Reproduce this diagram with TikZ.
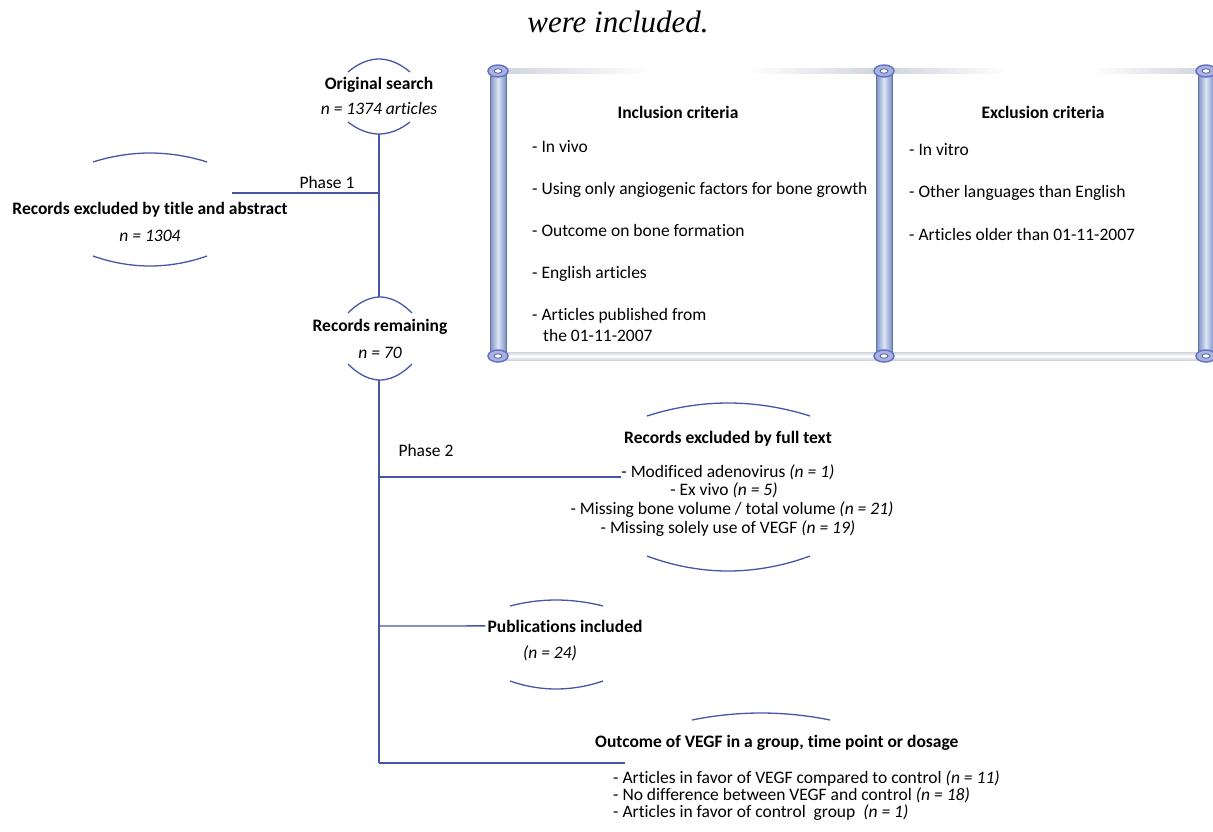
\documentclass[tikz,border=0pt]{standalone}
\usepackage{fontspec}
\setmainfont[Ligatures={NoCommon}]{Carlito}
\newfontfamily\serifit{Liberation Serif}
\usetikzlibrary{positioning}
\definecolor{flowblue}{RGB}{70,86,166}
\definecolor{rodgrey}{RGB}{208,211,219}
\definecolor{pillarlight}{RGB}{222,230,245}
\definecolor{pillardark}{RGB}{122,144,198}
\definecolor{knobblue}{RGB}{100,116,196}
\newcommand{\fs}{\fontsize{17.5}{19}\selectfont}
\tikzset{
  link/.style={draw=flowblue, line width=1.4pt},
  hoop/.style={draw=flowblue, line width=1.3pt},
  heading/.style={font=\fs\bfseries, inner sep=0pt, anchor=base},
  count/.style={font=\fs\itshape, inner sep=0pt, anchor=base},
  entry/.style={font=\fs, inner sep=0pt, anchor=base west},
  midentry/.style={font=\fs, inner sep=0pt, anchor=base},
}
\begin{document}
\begin{tikzpicture}[x=1pt,y=-1pt]
  \useasboundingbox (0,0) rectangle (1213,831);
  \node[font=\serifit\itshape\fontsize{31}{33}\selectfont, inner sep=0pt, anchor=base] (title) at (618,32) {were included.};

  % scroll frames
  \shade[left color=rodgrey, right color=white] (498,68.5) rectangle (650,73.5);
  \shade[left color=white, right color=rodgrey] (747,68.5) rectangle (884,73.5);
  \shade[left color=rodgrey, right color=white] (884,68.5) rectangle (1008,73.5);
  \shade[left color=white, right color=rodgrey] (1090,68.5) rectangle (1206,73.5);
  \shade[top color=rodgrey, bottom color=rodgrey, middle color=white] (498,352) rectangle (1213,360);
  \foreach \px in {498,884,1206} {
    \shade[left color=pillardark, right color=pillardark, middle color=pillarlight] (\px-8,71) rectangle (\px+8,356);
    \draw[pillardark!80!black, line width=0.6pt] (\px-8,71) rectangle (\px+8,356);
  }
  \foreach \px in {498,884,1206}
    \foreach \py in {71,356} {
      \filldraw[fill=knobblue!55, draw=knobblue, line width=1.5pt] (\px,\py) ellipse (10 and 6);
      \filldraw[fill=white, draw=knobblue!80!black, line width=0.8pt] (\px,\py) ellipse (4 and 2.2);
    }

  % criteria
  \node[heading] (incl) at (678,118) {Inclusion criteria};
  \node[entry] (in1) at (532,152) {- In vivo};
  \node[entry] (in2) at (532,194) {- Using only angiogenic factors for bone growth};
  \node[entry] (in3) at (532,236) {- Outcome on bone formation};
  \node[entry] (in4) at (532,278) {- English articles};
  \node[entry] (in5) at (532,320) {- Articles published from};
  \node[entry] (in6) at (543,341) {the 01-11-2007};
  \node[heading] (excl) at (1043,118) {Exclusion criteria};
  \node[entry] (ex1) at (909,155) {- In vitro};
  \node[entry] (ex2) at (909,197) {- Other languages than English};
  \node[entry] (ex3) at (909,240) {- Articles older than 01-11-2007};

  % flow nodes
  \node[heading] (orig) at (379,89) {Original search};
  \node[count] (origN) at (379,114) {n = 1374 articles};
  \node[heading] (drop) at (150,214) {Records excluded by title and abstract};
  \node[count] (dropN) at (150,241) {n = 1304};
  \node[heading] (remain) at (380,331) {Records remaining};
  \node[count] (remainN) at (380,358) {n = 70};
  \node[heading] (full) at (728,443) {Records excluded by full text};
  \node[midentry] (ft1) at (728,477) {- Modificed adenovirus \textit{(n = 1)}};
  \node[midentry] (ft2) at (724,495) {- Ex vivo \textit{(n = 5)}};
  \node[midentry] (ft3) at (732,514) {- Missing bone volume / total volume \textit{(n = 21)}};
  \node[midentry] (ft4) at (728,533) {- Missing solely use of VEGF \textit{(n = 19)}};
  \node[heading] (pubs) at (565,632) {Publications included};
  \node[count] (pubsN) at (550,658) {(n = 24)};
  \node[heading, anchor=base west] (outc) at (595,747) {Outcome of VEGF in a group, time point or dosage};
  \node[entry] (oc1) at (613,783) {- Articles in favor of VEGF compared to control \textit{(n = 11)}};
  \node[entry] (oc2) at (613,800) {- No difference between VEGF and control \textit{(n = 18)}};
  \node[entry] (oc3) at (613,817) {- Articles in favor of control \ group \ \textit{(n = 1)}};
  \node[font=\fs, inner sep=0pt, anchor=base] (ph1) at (327,188) {Phase 1};
  \node[font=\fs, inner sep=0pt, anchor=base] (ph2) at (426,456) {Phase 2};

  % hoops round the boxes
  \draw[hoop] (348,72) parabola bend (379,59) (410,72);
  \draw[hoop] (348,122) parabola bend (379,134) (410,122);
  \draw[hoop] (93,162) parabola bend (150,153) (207,162);
  \draw[hoop] (93,256) parabola bend (150,266) (207,256);
  \draw[hoop] (348,313) parabola bend (380,297) (412,313);
  \draw[hoop] (348,364) parabola bend (380,380) (412,364);
  \draw[hoop] (647,416) parabola bend (728,403) (810,416);
  \draw[hoop] (647,556) parabola bend (728,571) (810,556);
  \draw[hoop] (510,606) parabola bend (556,600) (603,606);
  \draw[hoop] (510,681) parabola bend (556,689) (603,681);
  \draw[hoop] (692,720) parabola bend (761,713) (830,720);

  % connectors
  \coordinate (origB) at (379,134);
  \coordinate (remainT) at (379,297);
  \coordinate (remainB) at (379,380);
  \coordinate (split1) at (379,193);
  \coordinate (drop1) at (232,193);
  \coordinate (split2) at (379,477);
  \coordinate (split3) at (379,626);
  \coordinate (split4) at (379,763);
  \coordinate (outc1) at (625,763);
  \draw[link] (origB) -- (remainT);
  \draw[link] (split1) -- (drop1);
  \draw[link] (remainB) -- (split4);
  \draw[link] (split2) -- (ft1.base west);
  \draw[link] (split3) -- ([xshift=-2pt]pubs.west);
  \draw[link] (split4) -- (outc1);
\end{tikzpicture}
\end{document}
